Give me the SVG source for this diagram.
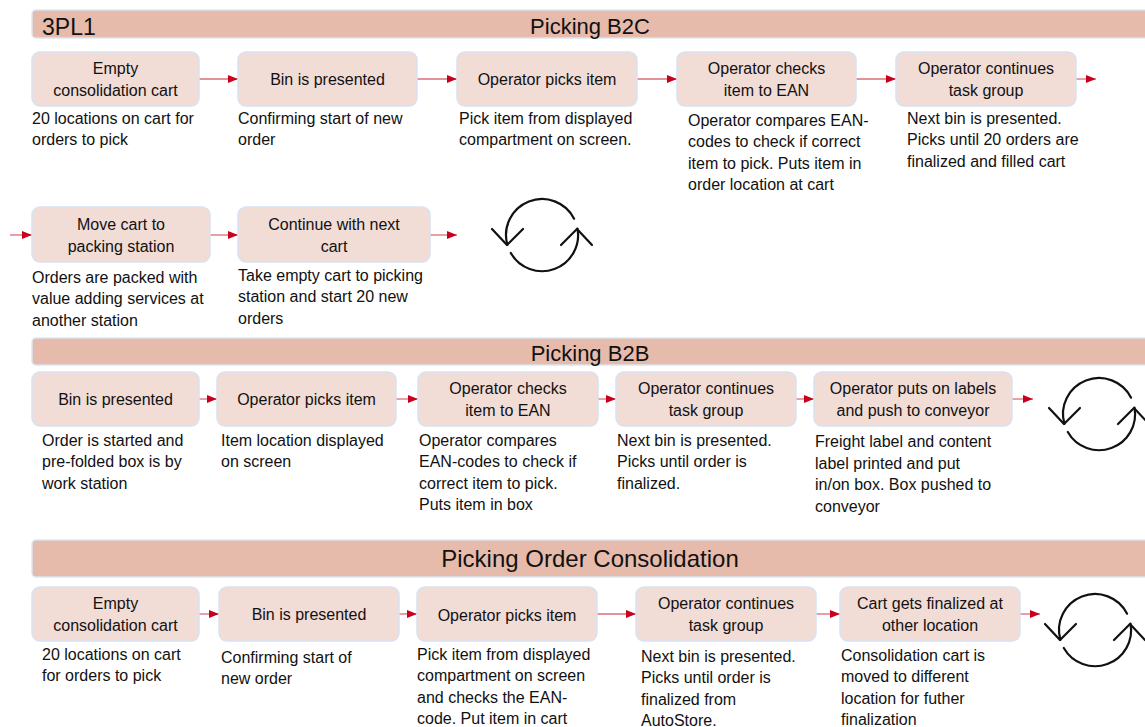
<svg xmlns="http://www.w3.org/2000/svg" xmlns:xlink="http://www.w3.org/1999/xlink" width="1145" height="727" viewBox="0 0 1145 727">
  <style>
    .bar { fill: #e6bbab; stroke: #dce6f2; stroke-width: 1.5; }
    .bar-title { font-family: "Liberation Sans", Arial, sans-serif; font-size: 22px; fill: #111; text-anchor: middle; }
    .box { fill: #f2dcd6; stroke: #d7e2f2; stroke-width: 1.5; }
    .label { font-family: "Liberation Sans", Arial, sans-serif; font-size: 16px; fill: #111; text-anchor: middle; }
    .desc { font-family: "Liberation Sans", Arial, sans-serif; font-size: 16px; fill: #111; }
    .flow { stroke: #dc6d78; stroke-width: 1.3; fill: none; marker-end: url(#head); }
    .cycle { stroke: #111; stroke-width: 2.2; fill: none; stroke-linecap: round; stroke-linejoin: round; }
  </style>
  <defs>
    <marker id="head" markerUnits="userSpaceOnUse" markerWidth="10" markerHeight="8" refX="10" refY="4" orient="auto">
      <path d="M0,0 L10,4 L0,8 z" fill="#c8001e"/>
    </marker>
    <!-- refresh / repeat symbol, centred on 0,0 -->
    <g id="cycle-icon" class="cycle">
      <path d="M32.1,-16.3 A36,36 0 0 0 -34.6,9.9"/>
      <path d="M-50,-6 L-35,10 L-19,-6"/>
      <path d="M-31.2,18 A36,36 0 0 0 35.5,-6.3"/>
      <path d="M19,10 L35,-6 L50,10"/>
    </g>
  </defs>

  <rect width="1145" height="727" fill="#ffffff"/>

  <!-- section bars -->
  <g id="bar-b2c">
    <rect class="bar" x="32" y="10" width="1130" height="28" rx="4"/>
    <text class="bar-title" x="42" y="35" style="text-anchor:start;font-size:23px">3PL1</text>
    <text class="bar-title" x="590" y="34">Picking B2C</text>
  </g>
  <g id="bar-b2b">
    <rect class="bar" x="32" y="338" width="1130" height="27" rx="4"/>
    <text class="bar-title" x="590" y="361">Picking B2B</text>
  </g>
  <g id="bar-consolidation">
    <rect class="bar" x="32" y="540" width="1130" height="37" rx="4"/>
    <text class="bar-title" x="590" y="567" style="font-size:24px">Picking Order Consolidation</text>
  </g>

  <!-- connectors -->
  <g id="connectors">
    <line class="flow" x1="199" y1="79" x2="238" y2="79"/>
    <line class="flow" x1="417" y1="79" x2="457" y2="79"/>
    <line class="flow" x1="637" y1="79" x2="677" y2="79"/>
    <line class="flow" x1="856" y1="79" x2="896" y2="79"/>
    <line class="flow" x1="1076" y1="79" x2="1096" y2="79"/>

    <line class="flow" x1="10" y1="235" x2="32" y2="235"/>
    <line class="flow" x1="210" y1="235" x2="238" y2="235"/>
    <line class="flow" x1="430" y1="235" x2="457" y2="235"/>

    <line class="flow" x1="199" y1="399" x2="217" y2="399"/>
    <line class="flow" x1="396" y1="399" x2="418" y2="399"/>
    <line class="flow" x1="598" y1="399" x2="616" y2="399"/>
    <line class="flow" x1="796" y1="399" x2="814" y2="399"/>
    <line class="flow" x1="1012" y1="399" x2="1033" y2="399"/>

    <line class="flow" x1="199" y1="614" x2="219" y2="614"/>
    <line class="flow" x1="399" y1="614" x2="417" y2="614"/>
    <line class="flow" x1="597" y1="614" x2="636" y2="614"/>
    <line class="flow" x1="816" y1="614" x2="840" y2="614"/>
    <line class="flow" x1="1020" y1="614" x2="1040" y2="614"/>
  </g>

  <!-- B2C, first row -->
  <g id="b2c-empty-cart">
    <rect class="box" x="32" y="52" width="167" height="54" rx="8"/>
    <text class="label" x="115.5" y="73.5">Empty</text>
    <text class="label" x="115.5" y="95.5">consolidation cart</text>
    <text class="desc" x="32" y="123.5">20 locations on cart for<tspan x="32" dy="21.5">orders to pick</tspan></text>
  </g>
  <g id="b2c-bin-presented">
    <rect class="box" x="238" y="52" width="179" height="54" rx="8"/>
    <text class="label" x="327.5" y="84.5">Bin is presented</text>
    <text class="desc" x="238" y="123.5">Confirming start of new<tspan x="238" dy="21.5">order</tspan></text>
  </g>
  <g id="b2c-picks-item">
    <rect class="box" x="457" y="52" width="180" height="54" rx="8"/>
    <text class="label" x="547" y="84.5">Operator picks item</text>
    <text class="desc" x="459" y="123.5">Pick item from displayed<tspan x="459" dy="21.5">compartment on screen.</tspan></text>
  </g>
  <g id="b2c-checks-ean">
    <rect class="box" x="677" y="52" width="179" height="54" rx="8"/>
    <text class="label" x="766.5" y="73.5">Operator checks</text>
    <text class="label" x="766.5" y="95.5">item to EAN</text>
    <text class="desc" x="688" y="125.5">Operator compares EAN-<tspan x="688" dy="21.5">codes to check if correct</tspan><tspan x="688" dy="21.5">item to pick. Puts item in</tspan><tspan x="688" dy="21.5">order location at cart</tspan></text>
  </g>
  <g id="b2c-continues">
    <rect class="box" x="896" y="52" width="180" height="54" rx="8"/>
    <text class="label" x="986" y="73.5">Operator continues</text>
    <text class="label" x="986" y="95.5">task group</text>
    <text class="desc" x="907" y="123.5">Next bin is presented.<tspan x="907" dy="21.5">Picks until 20 orders are</tspan><tspan x="907" dy="21.5">finalized and filled cart</tspan></text>
  </g>

  <!-- B2C, second row -->
  <g id="b2c-move-cart">
    <rect class="box" x="32" y="207" width="178" height="55" rx="8"/>
    <text class="label" x="121" y="229.5">Move cart to</text>
    <text class="label" x="121" y="251.5">packing station</text>
    <text class="desc" x="32" y="282.5">Orders are packed with<tspan x="32" dy="21.5">value adding services at</tspan><tspan x="32" dy="21.5">another station</tspan></text>
  </g>
  <g id="b2c-next-cart">
    <rect class="box" x="238" y="207" width="192" height="55" rx="8"/>
    <text class="label" x="334" y="229.5">Continue with next</text>
    <text class="label" x="334" y="251.5">cart</text>
    <text class="desc" x="238" y="280.5">Take empty cart to picking<tspan x="238" dy="21.5">station and start 20 new</tspan><tspan x="238" dy="21.5">orders</tspan></text>
  </g>
  <g id="b2c-repeat">
    <use xlink:href="#cycle-icon" href="#cycle-icon" transform="translate(542,235)"/>
  </g>

  <!-- B2B row -->
  <g id="b2b-bin-presented">
    <rect class="box" x="32" y="372" width="167" height="54" rx="8"/>
    <text class="label" x="115.5" y="404.5">Bin is presented</text>
    <text class="desc" x="42" y="445.5">Order is started and<tspan x="42" dy="21.5">pre-folded box is by</tspan><tspan x="42" dy="21.5">work station</tspan></text>
  </g>
  <g id="b2b-picks-item">
    <rect class="box" x="217" y="372" width="179" height="54" rx="8"/>
    <text class="label" x="306.5" y="404.5">Operator picks item</text>
    <text class="desc" x="221" y="445.5">Item location displayed<tspan x="221" dy="21.5">on screen</tspan></text>
  </g>
  <g id="b2b-checks-ean">
    <rect class="box" x="418" y="372" width="180" height="54" rx="8"/>
    <text class="label" x="508" y="393.5">Operator checks</text>
    <text class="label" x="508" y="415.5">item to EAN</text>
    <text class="desc" x="419" y="445.5">Operator compares<tspan x="419" dy="21.5">EAN-codes to check if</tspan><tspan x="419" dy="21.5">correct item to pick.</tspan><tspan x="419" dy="21.5">Puts item in box</tspan></text>
  </g>
  <g id="b2b-continues">
    <rect class="box" x="616" y="372" width="180" height="54" rx="8"/>
    <text class="label" x="706" y="393.5">Operator continues</text>
    <text class="label" x="706" y="415.5">task group</text>
    <text class="desc" x="617" y="445.5">Next bin is presented.<tspan x="617" dy="21.5">Picks until order is</tspan><tspan x="617" dy="21.5">finalized.</tspan></text>
  </g>
  <g id="b2b-labels">
    <rect class="box" x="814" y="372" width="198" height="54" rx="8"/>
    <text class="label" x="913" y="393.5">Operator puts on labels</text>
    <text class="label" x="913" y="415.5">and push to conveyor</text>
    <text class="desc" x="815" y="447">Freight label and content<tspan x="815" dy="21.5">label printed and put</tspan><tspan x="815" dy="21.5">in/on box. Box pushed to</tspan><tspan x="815" dy="21.5">conveyor</tspan></text>
  </g>
  <g id="b2b-repeat">
    <use xlink:href="#cycle-icon" href="#cycle-icon" transform="translate(1099,414)"/>
  </g>

  <!-- Order consolidation row -->
  <g id="oc-empty-cart">
    <rect class="box" x="32" y="587" width="167" height="54" rx="8"/>
    <text class="label" x="115.5" y="608.5">Empty</text>
    <text class="label" x="115.5" y="630.5">consolidation cart</text>
    <text class="desc" x="42" y="659.5">20 locations on cart<tspan x="42" dy="21.5">for orders to pick</tspan></text>
  </g>
  <g id="oc-bin-presented">
    <rect class="box" x="219" y="587" width="180" height="54" rx="8"/>
    <text class="label" x="309" y="619.5">Bin is presented</text>
    <text class="desc" x="221" y="662.5">Confirming start of<tspan x="221" dy="21.5">new order</tspan></text>
  </g>
  <g id="oc-picks-item">
    <rect class="box" x="417" y="587" width="180" height="54" rx="8"/>
    <text class="label" x="507" y="620.5">Operator picks item</text>
    <text class="desc" x="417" y="659.5">Pick item from displayed<tspan x="417" dy="21.5">compartment on screen</tspan><tspan x="417" dy="21.5">and checks the EAN-</tspan><tspan x="417" dy="21.5">code. Put item in cart</tspan></text>
  </g>
  <g id="oc-continues">
    <rect class="box" x="636" y="587" width="180" height="54" rx="8"/>
    <text class="label" x="726" y="608.5">Operator continues</text>
    <text class="label" x="726" y="630.5">task group</text>
    <text class="desc" x="641" y="661.5">Next bin is presented.<tspan x="641" dy="21.5">Picks until order is</tspan><tspan x="641" dy="21.5">finalized from</tspan><tspan x="641" dy="21.5">AutoStore.</tspan></text>
  </g>
  <g id="oc-finalized">
    <rect class="box" x="840" y="587" width="180" height="54" rx="8"/>
    <text class="label" x="930" y="608.5">Cart gets finalized at</text>
    <text class="label" x="930" y="630.5">other location</text>
    <text class="desc" x="841" y="660.5">Consolidation cart is<tspan x="841" dy="21.5">moved to different</tspan><tspan x="841" dy="21.5">location for futher</tspan><tspan x="841" dy="21.5">finalization</tspan></text>
  </g>
  <g id="oc-repeat">
    <use xlink:href="#cycle-icon" href="#cycle-icon" transform="translate(1095,630)"/>
  </g>
</svg>
